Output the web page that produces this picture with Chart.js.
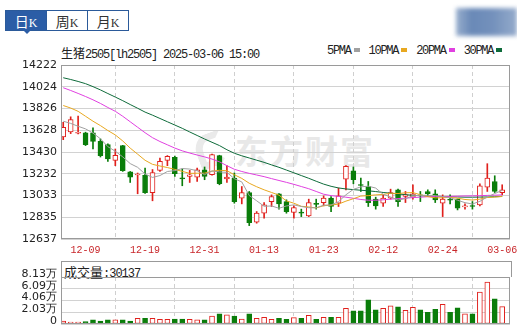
<!DOCTYPE html>
<html>
<head>
<meta charset="utf-8">
<script src="https://cdn.jsdelivr.net/npm/chart.js@4.4.1/dist/chart.umd.min.js"></script>
<style>
  body { margin: 0; width: 517px; height: 331px; background: #fff; position: relative; overflow: hidden; }
  .abs { position: absolute; }
  #tabs { left: 5px; top: 10px; height: 20px; display: flex; }
  .tab { width: 40px; height: 19px; border: 1px solid #2b5a9a; margin-left: -1px; text-align: center; line-height: 19px; color: #333; background: #fff; }
  .tab:first-child { margin-left: 0; }
  .tab.on { background: #2b5da6; color: #fff; }
  .tab .cj { font: 14px "Noto Sans CJK SC"; }
  .tab .k { font: 12px "Liberation Serif"; }
  #pointer { left: 23px; top: 30px; width: 0; height: 0; border-left: 4px solid transparent; border-right: 4px solid transparent; border-top: 4px solid #2b5da6; }
  #blob { left: 456px; top: 8px; width: 61px; height: 28px; background: linear-gradient(90deg, #8ea6c8 0%, #5a7db0 25%, #6585b5 60%, #8aa3c6 100%); filter: blur(2px); opacity: 0.9; }
  #title { left: 61px; top: 44px; font: 12px "Liberation Mono"; letter-spacing: -1.2px; color: #222; white-space: nowrap; }
  #title .cj { font: 12px "Noto Sans CJK SC"; letter-spacing: 0; }
  #legend { left: 327px; top: 44px; font: 12px "Liberation Mono"; letter-spacing: -1.3px; color: #222; white-space: nowrap; }
  #legend i { display: inline-block; width: 6px; height: 4px; margin: 0 9px 2px 3px; vertical-align: middle; }
  #mark { left: 235px; top: 126px; font: bold 33px "Noto Sans CJK SC"; color: #e8e8e8; letter-spacing: 2px; white-space: nowrap; }
  #logo { left: 196px; top: 133px; width: 30px; height: 34px; border-radius: 50% 10% 50% 10%; border: 7px solid #eaeaea; border-right-color: transparent; transform: rotate(-20deg); box-sizing: border-box; }
  #volbox { left: 61px; top: 261px; width: 447px; height: 15px; border: 1px solid #999; border-bottom: none; font: 12px "Liberation Mono"; line-height: 15px; padding-left: 2px; color: #222; letter-spacing: -1px; }
  #volbox .cj { font: 13px "Noto Sans CJK SC"; letter-spacing: 0; }
  canvas { position: absolute; left: 0; }
</style>
</head>
<body>
<div id="tabs" class="abs">
  <div class="tab on"><span class="cj">日</span><span class="k">K</span></div>
  <div class="tab"><span class="cj">周</span><span class="k">K</span></div>
  <div class="tab"><span class="cj">月</span><span class="k">K</span></div>
</div>
<div id="pointer" class="abs"></div>
<div id="blob" class="abs"></div>
<div id="title" class="abs"><span class="cj">生猪</span>2505[lh2505] 2025-03-06 15:00</div>
<div id="legend" class="abs">5PMA<i style="background:#a0a0a0"></i>10PMA<i style="background:#e8a820"></i>20PMA<i style="background:#e040e0"></i>30PMA<i style="background:#0e6b3a"></i></div>
<div id="logo" class="abs"></div>
<div id="mark" class="abs">东方财富</div>
<canvas id="kline" width="517" height="201" style="top:58px"></canvas>
<div id="volbox" class="abs"><span class="cj">成交量</span>:30137</div>
<canvas id="vol" width="517" height="69" style="top:262px"></canvas>
<script>
const dates = [
  "12-04","12-05","12-06","12-09","12-10","12-11","12-12","12-13","12-16","12-17",
  "12-18","12-19","12-20","12-23","12-24","12-25","12-26","12-27","12-30","12-31",
  "01-02","01-03","01-06","01-07","01-08","01-09","01-10","01-13","01-14","01-15",
  "01-16","01-17","01-20","01-21","01-22","01-23","01-24","01-27","02-05","02-06",
  "02-07","02-10","02-11","02-12","02-13","02-14","02-17","02-18","02-19","02-20",
  "02-21","02-24","02-25","02-26","02-27","02-28","03-03","03-04","03-05","03-06"
];
const opens = [
  13567,13613,13600,13604,13604,13527,13497,13353,13488,13250,
  13220,13216,13060,13262,13353,13381,13192,13207,13201,13268,
  13222,13396,13185,13192,13009,13060,12790,12872,12978,13048,
  12978,12878,12880,12847,12963,12969,13009,12963,13183,13259,
  13131,13115,13000,12963,13009,13085,13024,13018,13039,13070,
  13048,12963,13000,13000,12930,12939,12948,13109,13161,13060
];
const highs = [
  13700,13750,13756,13610,13649,13549,13503,13457,13490,13252,
  13238,13283,13270,13375,13397,13392,13275,13262,13283,13293,
  13410,13400,13305,13238,13115,13070,12887,12969,13039,13050,
  12994,12939,12909,13000,13000,13030,13024,13101,13305,13293,
  13192,13161,13018,13039,13091,13091,13070,13131,13070,13085,
  13085,13039,13039,13002,12957,12978,13140,13323,13213,13131
];
const lows = [
  13542,13597,13595,13488,13457,13384,13344,13305,13253,13152,
  13049,13052,12985,13253,13305,13207,13122,13152,13161,13177,
  13218,13131,13152,12963,12957,12759,12781,12826,12933,12909,
  12872,12826,12841,12841,12909,12939,12887,12933,13085,13140,
  13070,12933,12909,12933,13000,12933,12969,13000,12978,13024,
  12969,12841,12957,12902,12909,12909,12939,13070,13060,13039
];
const closes = [
  13655,13725,13605,13497,13527,13396,13366,13399,13259,13201,
  13225,13060,13243,13344,13390,13231,13185,13222,13268,13207,
  13405,13140,13200,12978,13060,12786,12872,12948,13024,12957,
  12887,12924,12872,12969,12952,13009,12933,13030,13298,13177,
  13124,12969,12939,13009,13060,12978,13039,13048,13030,13050,
  12993,13000,12990,12918,12937,12933,13122,13192,13070,13085
];
const volumes = [
  5200,3500,3500,4000,7000,5200,7000,7000,7000,5200,
  9900,9900,9900,8200,8200,8700,8700,8200,7000,7000,
  13900,17400,15700,13900,8700,17400,9900,11600,8100,9900,
  8100,11000,9900,15100,8100,11600,11600,11600,27300,22600,
  22600,41800,24400,27300,31300,29600,23800,29000,24400,20300,
  25500,34200,20300,27900,17400,17400,55100,72600,43500,30137
];
const ma5 = [
  13710,13690,13664,13640,13602,13550,13478,13437,13385,13324,
  13290,13229,13198,13215,13252,13260,13279,13274,13259,13223,
  13257,13248,13244,13186,13157,13033,12985,12935,12938,12917,
  12938,12948,12933,12922,12921,12945,12947,12977,13040,13089,
  13112,13118,13101,13044,13020,12991,13005,13030,13035,13035,
  13032,13024,13013,12990,12968,12956,12980,13020,13051,13080
];
const ma10 = [
  13853,13830,13800,13755,13710,13670,13625,13585,13530,13465,
  13410,13354,13317,13302,13288,13271,13253,13235,13236,13237,
  13255,13263,13259,13222,13189,13145,13113,13085,13061,13036,
  12984,12963,12935,12929,12920,12940,12946,12955,12982,13004,
  13028,13032,13039,13043,13054,13051,13058,13060,13040,13023,
  13012,13013,13016,13009,12997,12992,13000,13015,13019,13025
];
const ma20 = [
  14015,13990,13963,13935,13905,13872,13835,13800,13755,13705,
  13655,13605,13560,13525,13495,13465,13440,13420,13402,13385,
  13365,13340,13305,13272,13252,13235,13220,13205,13187,13170,
  13153,13135,13115,13095,13070,13045,13032,13025,13018,13008,
  12997,12990,12990,12994,13000,13005,13009,13014,13018,13022,
  13024,13024,13025,13027,13029,13030,13032,13034,13036,13039
];
const ma30 = [
  14106,14090,14072,14052,14025,13995,13962,13930,13897,13862,
  13828,13793,13765,13735,13705,13675,13645,13612,13580,13548,
  13518,13488,13450,13418,13395,13375,13355,13335,13312,13290,
  13265,13240,13215,13190,13163,13137,13117,13102,13093,13087,
  13081,13076,13069,13061,13054,13047,13041,13035,13031,13028,
  13026,13024,13022,13020,13018,13018,13019,13020,13022,13024
];
const priceTicks = ["12637","12835","13033","13232","13430","13628","13826","14024","14222"];
const dateTicks = ["12-09","12-19","12-31","01-13","01-23","02-12","02-24","03-06"];
const volTicks = ["0","2.03万","4.06万","6.09万","8.13万"];

const RED = "#e0201c";
const GREEN = "#0a7d0a";
const axisFont = { family: "DejaVu Sans", size: 11 };

const pMin = Number(priceTicks[0]);
const pMax = Number(priceTicks[priceTicks.length - 1]);
const vMax = parseFloat(volTicks[volTicks.length - 1]) * 10000;
const up = closes.map((c, i) => c >= opens[i]);
const xMin = -0.3;
const xMax = dates.length + 0.05;

const frame = {
  id: "frame",
  afterDraw(chart) {
    const a = chart.chartArea;
    const ctx = chart.ctx;
    ctx.save();
    ctx.strokeStyle = "#9a9a9a";
    ctx.lineWidth = 1;
    ctx.strokeRect(Math.round(a.left) + 0.5, Math.round(a.top) + 0.5,
      Math.round(a.right - a.left) - 1, Math.round(a.bottom - a.top) - 1);
    ctx.restore();
  },
};

function maLine(values, color) {
  return {
    type: "line",
    data: values.map((v, i) => ({ x: i, y: v })),
    borderColor: color,
    borderWidth: 1,
    pointRadius: 0,
    tension: 0,
  };
}

function xScale(showLabels) {
  return {
    type: "linear",
    min: xMin,
    max: xMax,
    offset: false,
    afterBuildTicks: (s) => {
      s.ticks = dateTicks.map((d) => ({ value: dates.indexOf(d) }));
    },
    afterFit: (s) => {
      s.height = showLabels ? 20 : 0;
      s.paddingLeft = 0;
      s.paddingRight = 0;
    },
    grid: { color: "#cfcfcf", drawTicks: false },
    border: { display: false, dash: [4, 3] },
    ticks: {
      display: showLabels,
      autoSkip: false,
      maxRotation: 0,
      padding: 5,
      color: "#c8262a",
      font: { family: "Liberation Mono", size: 10 },
      callback: (v) => dates[v],
    },
  };
}

function yScale(lo, hi, labels, shift) {
  return {
    min: lo,
    max: hi,
    afterBuildTicks: (s) => {
      const step = (hi - lo) / (labels.length - 1);
      s.ticks = labels.map((t, k) => ({ value: lo + k * step }));
    },
    afterFit: (s) => {
      s.width = 61;
      s.paddingTop = 0;
      s.paddingBottom = 0;
    },
    grid: { color: "#d2d2d2", drawTicks: false },
    border: { display: false },
    ticks: {
      autoSkip: false,
      padding: 4,
      labelOffset: shift,
      color: "#222",
      font: axisFont,
      callback: (v, k) => labels[k],
    },
  };
}

const chartOptions = (padding, x, y) => ({
  responsive: false,
  animation: false,
  events: [],
  layout: { padding },
  plugins: { legend: { display: false }, tooltip: { enabled: false } },
  scales: { x, y },
});

new Chart(document.getElementById("kline"), {
  type: "bar",
  data: {
    datasets: [
      maLine(ma5, "#a0a0a0"),
      maLine(ma10, "#e8a820"),
      maLine(ma20, "#e040e0"),
      maLine(ma30, "#0e6b3a"),
      {
        data: dates.map((d, i) => ({ x: i, y: [opens[i], closes[i]] })),
        backgroundColor: up.map((u) => (u ? "#ffffff" : GREEN)),
        borderColor: up.map((u) => (u ? RED : GREEN)),
        borderWidth: 1,
        borderSkipped: false,
        barThickness: 5,
        minBarLength: 1,
        grouped: false,
      },
      {
        data: dates.map((d, i) => ({ x: i, y: [lows[i], highs[i]] })),
        backgroundColor: up.map((u) => (u ? RED : GREEN)),
        borderWidth: 0,
        barThickness: 1,
        grouped: false,
      },
    ],
  },
  options: chartOptions({ top: 7, right: 7, left: 0, bottom: 0 },
    xScale(true), yScale(pMin, pMax, priceTicks, 0)),
  plugins: [frame],
});

new Chart(document.getElementById("vol"), {
  type: "bar",
  data: {
    datasets: [
      {
        data: dates.map((d, i) => ({ x: i, y: volumes[i] })),
        backgroundColor: up.map((u) => (u ? "#ffffff" : GREEN)),
        borderColor: up.map((u) => (u ? RED : GREEN)),
        borderWidth: 1,
        borderSkipped: false,
        barThickness: 5,
        grouped: false,
      },
    ],
  },
  options: chartOptions({ top: 15, right: 7, left: 0, bottom: 7 },
    xScale(false), yScale(0, vMax, volTicks, -3)),
  plugins: [frame],
});
</script>
</body>
</html>
